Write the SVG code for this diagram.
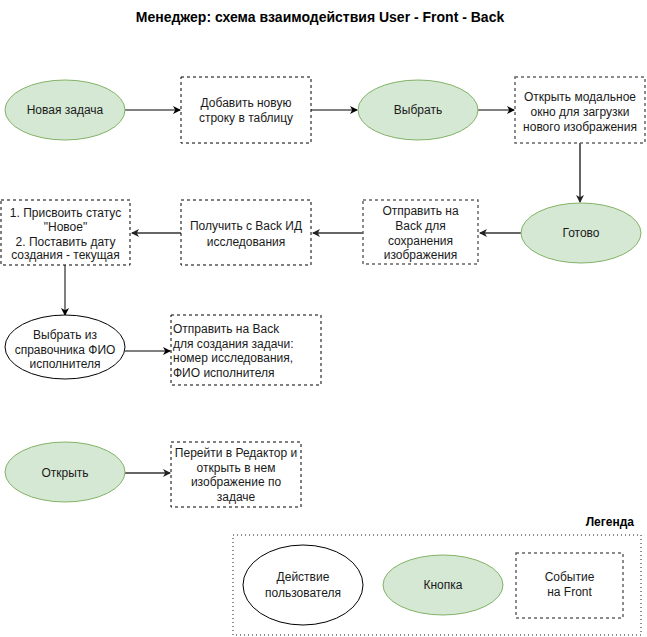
<svg xmlns="http://www.w3.org/2000/svg" width="647" height="637" viewBox="0 0 647 637">
<defs>
<marker id="arrB" markerWidth="10" markerHeight="10" refX="7" refY="4" orient="auto" markerUnits="userSpaceOnUse">
<path d="M0,0 L8,4 L0,8 L2.2,4 Z" fill="#000"/>
</marker>
<marker id="arrG" markerWidth="10" markerHeight="10" refX="7" refY="4" orient="auto" markerUnits="userSpaceOnUse">
<path d="M0,0 L8,4 L0,8 L2.2,4 Z" fill="#222"/>
</marker>
<style>
text{font-family:"Liberation Sans",Arial,sans-serif;font-size:12px;fill:#1a1a1a;text-anchor:middle;dominant-baseline:central}
.title{font-size:14px;font-weight:bold;fill:#000}
.btn{fill:#d5e8d4;stroke:#82b366;stroke-width:1}
.act{fill:#fff;stroke:#000;stroke-width:1}
.ev{fill:#fff;stroke:#000;stroke-width:1;stroke-dasharray:3 3}
.evg{fill:#fff;stroke:#666;stroke-width:1.5;stroke-dasharray:3 3}
.c{fill:none;stroke:#000;stroke-width:1;marker-end:url(#arrB)}
.cg{fill:none;stroke:#666;stroke-width:2;marker-end:url(#arrG)}
.l{text-anchor:start}
</style>
</defs>
<rect width="647" height="637" fill="#fff"/>
<text class="title" x="320" y="17">Менеджер: схема взаимодействия User - Front - Back</text>

<g id="connectors">
<line class="c" x1="125" y1="110" x2="180" y2="110"/>
<line class="c" x1="311" y1="110" x2="357" y2="110"/>
<line class="c" x1="478" y1="110" x2="514" y2="110"/>
<line class="cg" x1="580" y1="143" x2="580" y2="202"/>
<line class="cg" x1="521" y1="233" x2="480" y2="233"/>
<line class="cg" x1="363" y1="233" x2="313" y2="233"/>
<line class="cg" x1="181" y1="233" x2="132" y2="233"/>
<line class="c" x1="65" y1="265" x2="65" y2="315"/>
<line class="c" x1="125" y1="351" x2="170" y2="351"/>
<line class="cg" x1="125" y1="473" x2="170" y2="473"/>
</g>

<g id="n-new-task">
<ellipse class="btn" cx="65" cy="110" rx="60" ry="30"/>
<text x="65" y="110">Новая задача</text>
</g>
<g id="n-add-row">
<rect class="ev" x="181" y="77" width="130" height="66"/>
<text x="246" y="103">Добавить новую</text>
<text x="246" y="118">строку в таблицу</text>
</g>
<g id="n-select">
<ellipse class="btn" cx="418" cy="110" rx="60" ry="30"/>
<text x="418" y="110">Выбрать</text>
</g>
<g id="n-open-modal">
<rect class="evg" x="515" y="77" width="130" height="66"/>
<text x="580" y="97">Открыть модальное</text>
<text x="580" y="112">окно для загрузки</text>
<text x="580" y="127">нового изображения</text>
</g>
<g id="n-done">
<ellipse class="btn" cx="581" cy="233" rx="60" ry="30"/>
<text x="581" y="233">Готово</text>
</g>
<g id="n-send-save">
<rect class="evg" x="363" y="200" width="115" height="64"/>
<text x="420.5" y="211">Отправить на</text>
<text x="420.5" y="225.5">Back для</text>
<text x="420.5" y="240.5">сохранения</text>
<text x="420.5" y="255">изображения</text>
</g>
<g id="n-get-id">
<rect class="ev" x="181" y="200" width="130" height="65"/>
<text x="246" y="226">Получить с Back ИД</text>
<text x="246" y="241.5">исследования</text>
</g>
<g id="n-assign">
<rect class="ev" x="1" y="200" width="129" height="65"/>
<text x="65.5" y="213">1. Присвоить статус</text>
<text x="65.5" y="227">"Новое"</text>
<text x="65.5" y="241.5">2. Поставить дату</text>
<text x="65.5" y="255">создания - текущая</text>
</g>
<g id="n-choose-fio">
<ellipse class="act" cx="65" cy="347" rx="60" ry="32"/>
<text x="65" y="335">Выбрать из</text>
<text x="65" y="350">справочника ФИО</text>
<text x="65" y="364">исполнителя</text>
</g>
<g id="n-send-task">
<rect class="ev" x="171" y="315" width="150" height="70"/>
<text class="l" x="173" y="329">Отправить на Back</text>
<text class="l" x="173" y="343.5">для создания задачи:</text>
<text class="l" x="173" y="358">номер исследования,</text>
<text class="l" x="173" y="372.5">ФИО исполнителя</text>
</g>
<g id="n-open">
<ellipse class="btn" cx="65" cy="472" rx="60" ry="30"/>
<text x="65" y="473">Открыть</text>
</g>
<g id="n-goto-editor">
<rect class="ev" x="171" y="442" width="130" height="65"/>
<text x="236" y="453">Перейти в Редактор и</text>
<text x="236" y="467.5">открыть в нем</text>
<text x="236" y="482">изображение по</text>
<text x="236" y="496.5">задаче</text>
</g>

<g id="legend">
<text class="title" x="634" y="522" style="text-anchor:end;font-size:12px">Легенда</text>
<rect x="233" y="535" width="408" height="100" fill="none" stroke="#666" stroke-width="1.5" stroke-dasharray="1 3"/>
<g id="lg-action">
<ellipse class="act" cx="303" cy="585" rx="60" ry="40"/>
<text x="303" y="577">Действие</text>
<text x="303" y="593">пользователя</text>
</g>
<g id="lg-button">
<ellipse class="btn" cx="443" cy="585" rx="60" ry="30"/>
<text x="443" y="585">Кнопка</text>
</g>
<g id="lg-event">
<rect class="evg" x="516" y="553" width="107" height="65"/>
<text x="569.5" y="577">Событие</text>
<text x="569.5" y="592">на Front</text>
</g>
</g>
</svg>
